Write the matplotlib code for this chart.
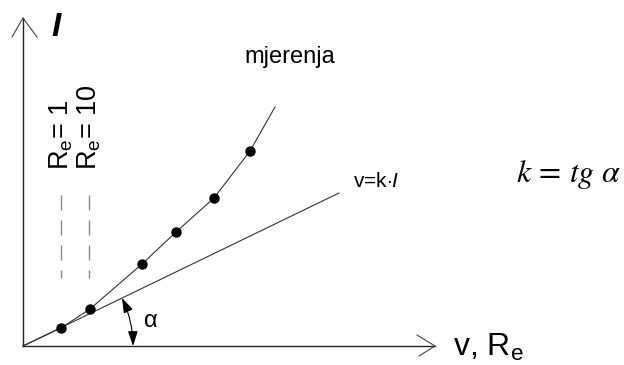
import numpy as np
import matplotlib
matplotlib.use("Agg")
import matplotlib.pyplot as plt
from matplotlib.patches import FancyArrowPatch

plt.rcParams['font.family'] = ['Liberation Sans', 'DejaVu Sans']
plt.rcParams['mathtext.fontset'] = 'custom'
plt.rcParams['mathtext.rm'] = 'Liberation Sans'
plt.rcParams['mathtext.it'] = 'Liberation Sans:italic'

# measurements (pixel-ish units, origin at the axis corner)
meas_x = [38, 67, 119, 153, 191, 227]
meas_y = [18, 37, 82, 114, 148, 195]
# curve through the measurements
curve_x = [0, 38, 67, 119, 153, 191, 227, 252]
curve_y = [0, 18, 37, 82, 114, 148, 195, 239]
# v = k*I line
lin_x = [0, 316]
lin_y = [0, 153]
# Re levels (dashed markers)
re_x = [38, 66]
re_labels = [r'R$_\mathrm{e}$= 1', r'R$_\mathrm{e}$= 10']

fig = plt.figure(figsize=(6.24, 3.65), dpi=100)
ax = fig.add_axes([0, 0, 1, 1])
ax.set_xlim(-23, 601)
ax.set_ylim(-19, 346)
ax.axis('off')

# axes with open arrow heads
ax.plot([0, 0], [0, 328], color='#222222', lw=1)
ax.plot([-11, 0, 14], [309, 328, 309], color='#444444', lw=0.8)
ax.plot([0, 412], [0, 0], color='#222222', lw=1)
ax.plot([394, 412, 396], [11, 0, -10], color='#444444', lw=0.8)

ax.plot(lin_x, lin_y, color='#333333', lw=0.8)
ax.plot(curve_x, curve_y, color='#333333', lw=0.8)
ax.plot(meas_x, meas_y, 'o', color='black', ms=6.5)

for x, lab in zip(re_x, re_labels):
    ax.plot([x, x], [151, 68], color='#888888', lw=1, linestyle=(0, (10.8, 7.2)))
    ax.text(x, 176, lab, rotation=90, ha='center', va='bottom', fontsize=19.5)

# angle alpha
arr = FancyArrowPatch((110, 0), (99, 48), connectionstyle='arc3,rad=0.11',
                      arrowstyle='<|-|>,head_length=0.45,head_width=0.15',
                      mutation_scale=20, color='black', lw=0.8,
                      shrinkA=0, shrinkB=0)
ax.add_patch(arr)
ax.text(128, 25, r'α', fontsize=17, ha='center', va='center')

ax.text(33, 319, 'I', fontsize=24, fontweight='bold', style='italic',
        ha='center', va='center')
ax.text(267, 289, 'mjerenja', fontsize=17, ha='center', va='center')
ax.text(330, 159, r'v=k$\cdot$$\mathit{I}$', fontsize=15, ha='left', va='baseline')
ax.text(493, 164, r'$k\,=\,tg\ \alpha$', fontsize=23, ha='left', va='baseline',
        math_fontfamily='stix')
ax.text(430, -10, r'v, R$_\mathrm{e}$', fontsize=23, ha='left', va='baseline')

fig.savefig('out.png', dpi=100)
